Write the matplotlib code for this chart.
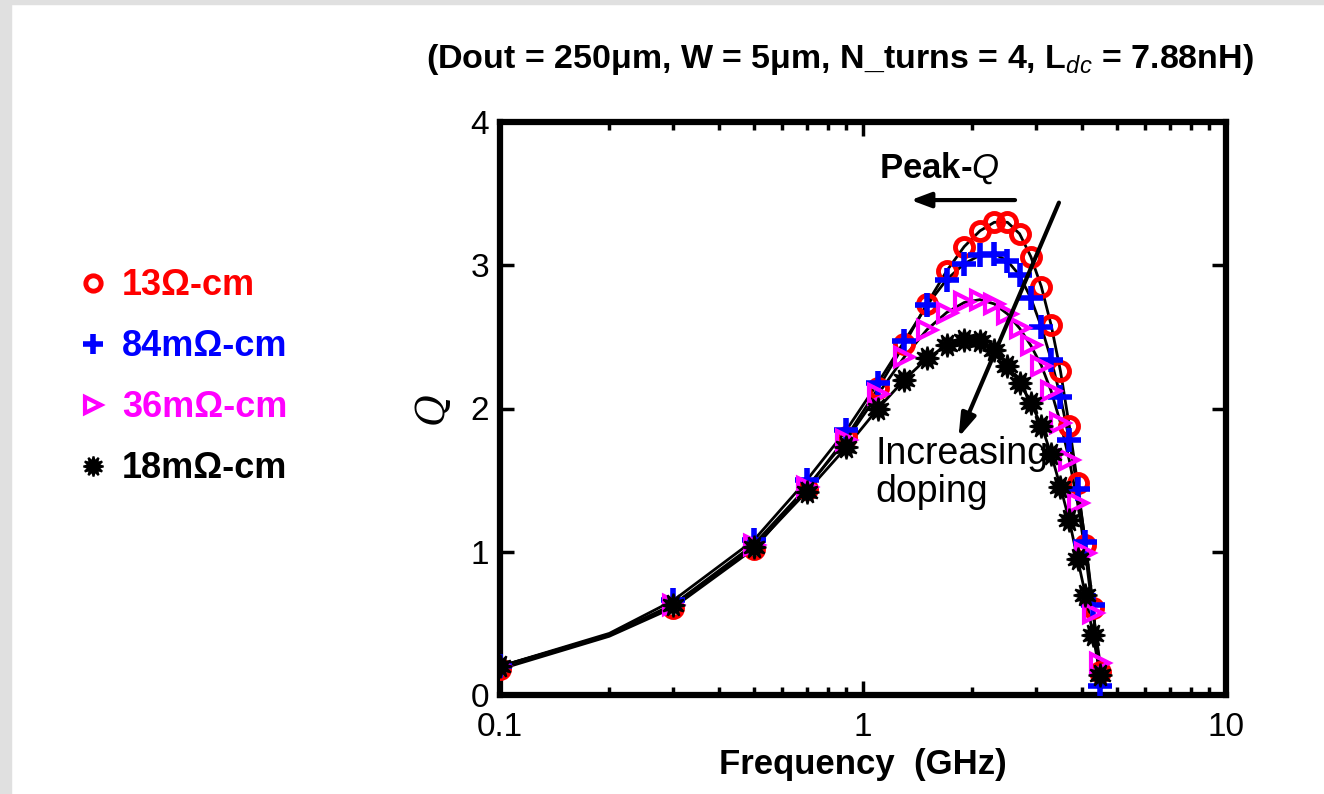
import numpy as np
import matplotlib
matplotlib.use("Agg")
import matplotlib.pyplot as plt
from matplotlib.patches import Rectangle
from matplotlib import font_manager

# === data ===
freq = [0.1, 0.2, 0.3, 0.5, 0.7, 0.9, 1.1, 1.3, 1.5, 1.7, 1.9, 2.1, 2.3,
        2.5, 2.7, 2.9, 3.1, 3.3, 3.5, 3.7, 3.9, 4.1, 4.3, 4.5]

q_13ohm = [0.18, 0.41, 0.61, 1.02, 1.44, 1.80, 2.14, 2.45, 2.73, 2.96, 3.13, 3.24, 3.30,
           3.30, 3.22, 3.06, 2.85, 2.58, 2.26, 1.88, 1.48, 1.05, 0.61, 0.16]
q_84mohm = [0.20, 0.43, 0.66, 1.08, 1.50, 1.85, 2.18, 2.47, 2.72, 2.90, 3.01, 3.07, 3.08,
            3.03, 2.93, 2.77, 2.57, 2.34, 2.08, 1.78, 1.44, 1.07, 0.63, 0.06]
q_36mohm = [0.20, 0.42, 0.63, 1.05, 1.45, 1.78, 2.10, 2.36, 2.55, 2.67, 2.74, 2.76, 2.73,
            2.66, 2.56, 2.44, 2.30, 2.12, 1.90, 1.64, 1.34, 0.99, 0.57, 0.22]
q_18mohm = [0.20, 0.42, 0.63, 1.03, 1.42, 1.73, 2.00, 2.20, 2.35, 2.44, 2.48, 2.47, 2.41,
            2.30, 2.18, 2.04, 1.88, 1.68, 1.45, 1.22, 0.95, 0.70, 0.42, 0.14]

labels = ["13\u03a9-cm", "84m\u03a9-cm", "36m\u03a9-cm", "18m\u03a9-cm"]
colors = ["#ff0000", "#0000ff", "#ff00ff", "#000000"]

xticks = [0.1, 1, 10]
xtick_labels = ["0.1", "1", "10"]
yticks = [0, 1, 2, 3, 4]

# narrow font if there is one
names = {f.name for f in font_manager.fontManager.ttflist}
if "Liberation Sans Narrow" in names:
    FONT = ["Liberation Sans Narrow", "DejaVu Sans"]
else:
    FONT = ["Liberation Sans", "DejaVu Sans"]
plt.rcParams["font.family"] = FONT
plt.rcParams["mathtext.fontset"] = "custom"
plt.rcParams["mathtext.rm"] = FONT[0] + ":bold"
plt.rcParams["mathtext.it"] = FONT[0] + ":italic"

fig = plt.figure(figsize=(13.24, 7.94), dpi=100)

# grey frame on the top and left edges
fig.patches.append(Rectangle((0, 0), 11 / 1324, 1, transform=fig.transFigure,
                             color="#e0e0e0", zorder=0))
fig.patches.append(Rectangle((0, 1 - 4 / 794), 1, 4 / 794, transform=fig.transFigure,
                             color="#e0e0e0", zorder=0))

ax = fig.add_axes([500 / 1324, 99 / 794, 726 / 1324, 573 / 794])

mark_idx = [i for i in range(len(freq)) if i != 1]
series = [q_13ohm, q_84mohm, q_36mohm, q_18mohm]
marker_styles = [
    dict(marker="o", ms=13, mfc="none", mew=3.5),
    dict(marker="+", ms=17, mew=4),
    dict(marker=">", ms=13, mfc="none", mew=3),
    dict(marker=(12, 1, 0), ms=17, mew=1.5),
]

handles = []
for q, lab, c, ms in zip(series, labels, colors, marker_styles):
    ax.plot(freq, q, color="black", lw=2, zorder=2)
    h, = ax.plot(freq, q, ls="none", color=c, mec=c, markevery=mark_idx,
                 label=lab, zorder=3, **ms)
    handles.append(h)

ax.set_xscale("log")
ax.set_xlim(0.1, 10)
ax.set_ylim(0, 4)
ax.set_xticks(xticks)
ax.set_xticklabels(xtick_labels)
ax.set_yticks(yticks)
ax.xaxis.set_minor_formatter(matplotlib.ticker.NullFormatter())

for s in ax.spines.values():
    s.set_linewidth(4.5)
ax.tick_params(axis="both", which="major", direction="in", length=10, width=2.5,
               top=True, right=True, labelsize=24)
ax.tick_params(axis="x", which="major", pad=12)
ax.tick_params(axis="y", which="major", pad=8)
ax.tick_params(axis="x", which="minor", direction="in", length=6, width=2.5,
               top=True)

ax.set_xlabel("Frequency  (GHz)", fontsize=25, fontweight="bold", labelpad=4)
ax.set_ylabel("Q", fontsize=28, fontstyle="italic", family=["DejaVu Serif"],
              labelpad=14)

fig.text(0.634, 0.925,
         "(Dout = 250\u03bcm, W = 5\u03bcm, N_turns = 4, L$_{dc}$ = 7.88nH)",
         fontsize=24.5, fontweight="bold", ha="center", va="center")

# annotations
ax.annotate("", xy=(1.33, 3.455), xytext=(2.67, 3.455),
            arrowprops=dict(arrowstyle="-|>,head_length=1.2,head_width=0.45",
                            color="black", lw=3))
ax.text(1.11, 3.55, "Peak-$Q$", fontsize=25, fontweight="bold", va="bottom")
ax.annotate("", xy=(1.82, 1.78), xytext=(3.49, 3.455),
            arrowprops=dict(arrowstyle="-|>,head_length=1.4,head_width=0.45",
                            color="black", lw=3))
ax.text(1.08, 1.55, "Increasing\ndoping", fontsize=27, va="center",
        linespacing=1.05)

leg = fig.legend(handles=handles, loc="center left",
                 bbox_to_anchor=(50 / 1324, 0.525), frameon=False,
                 prop={"weight": "bold", "size": 26},
                 markerscale=0.85, handlelength=0.6, handletextpad=0.5,
                 labelspacing=0.72)
for t, c in zip(leg.get_texts(), colors):
    t.set_color(c)

fig.savefig("out.png", dpi=100)
